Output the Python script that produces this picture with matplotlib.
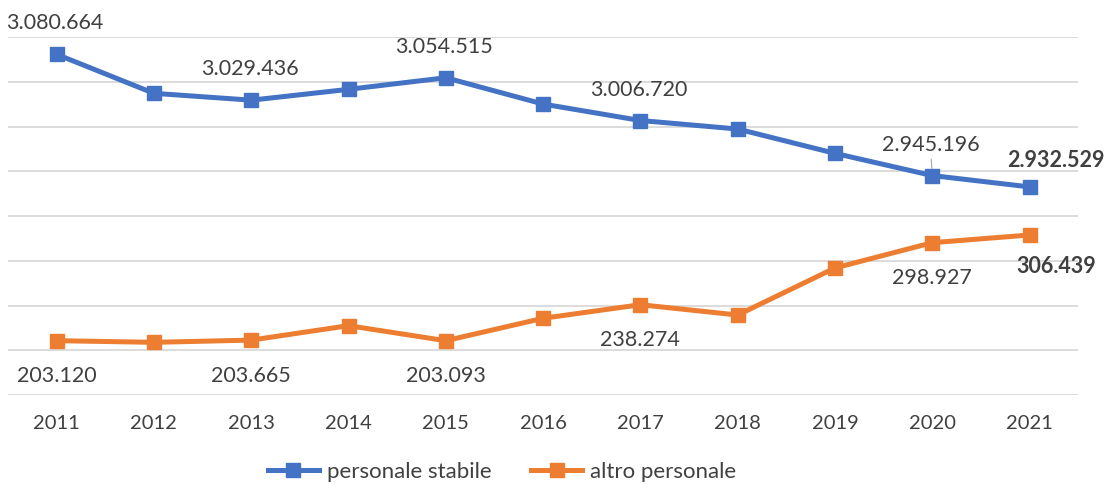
import matplotlib.pyplot as plt

# Data
years = ['2011', '2012', '2013', '2014', '2015', '2016', '2017', '2018', '2019', '2020', '2021']
stabile = [3080664, 3037100, 3029436, 3041550, 3054515, 3025100, 3006720, 2997200, 2970000, 2945196, 2932529]
altro = [203120, 201500, 203665, 217800, 203093, 225000, 238274, 228200, 274200, 298927, 306439]

# which points carry a value label
stabile_labels = [0, 2, 4, 6, 9, 10]
altro_labels = [0, 2, 4, 6, 9, 10]

blue = '#4472C4'
orange = '#ED7D31'
text_col = '#404040'
grid_col = '#D9D9D9'

plt.rcParams['font.family'] = ['Lato', 'DejaVu Sans']
plt.rcParams['font.size'] = 14.5

fig = plt.figure(figsize=(11.07, 4.85), dpi=100)
ax = fig.add_axes([0.0072, 0.1835, 0.9668, 0.7381])
ax2 = ax.twinx()

x = list(range(len(years)))

ax.set_ylim(2700000, 3100000)
ax.set_yticks(range(2700000, 3100001, 50000))
ax2.set_ylim(150000, 500000)
ax.set_xlim(-0.5, len(years) - 0.5)

ax.grid(axis='y', color=grid_col, linewidth=1.3)
ax.set_axisbelow(True)
for a in (ax, ax2):
    for s in a.spines.values():
        s.set_visible(False)
    a.tick_params(axis='y', left=False, right=False, labelleft=False, labelright=False)
ax.tick_params(axis='x', length=0, colors=text_col, pad=14)
ax.set_xticks(x)
ax.set_xticklabels(years)

l1, = ax.plot(x, stabile, color=blue, linewidth=3.6, marker='s', markersize=9.5,
              label='personale stabile', zorder=3)
l2, = ax2.plot(x, altro, color=orange, linewidth=3.6, marker='s', markersize=9.5,
               label='altro personale', zorder=3)

def fmt(v):
    return f"{v:,}".replace(',', '.')

lab_size = 15.5
for i in stabile_labels:
    last = i == len(years) - 1
    kw = {}
    if i == 9:
        kw = dict(arrowprops=dict(arrowstyle='-', color='#A6A6A6', lw=0.8,
                                  relpos=(0.5, 0), shrinkA=2, shrinkB=5))
    ax.annotate(fmt(stabile[i]), (x[i], stabile[i]),
                xytext=(19 if last else -1, 20 if last else 23), textcoords='offset points',
                ha='center', va='center', color=text_col, fontsize=lab_size,
                fontweight='bold' if last else 'normal', **kw)

for i in altro_labels:
    last = i == len(years) - 1
    ax2.annotate(fmt(altro[i]), (x[i], altro[i]),
                 xytext=(19 if last else 0, -22 if last else -25), textcoords='offset points',
                 ha='center', va='center', color=text_col, fontsize=lab_size,
                 fontweight='bold' if last else 'normal')

fig.legend(handles=[l1, l2], loc='center', bbox_to_anchor=(0.4535, 0.026), ncol=2,
           frameon=False, fontsize=16, handlelength=2.3, handletextpad=0.35,
           columnspacing=1.8, labelcolor=text_col)

fig.savefig('out.png', dpi=100)
